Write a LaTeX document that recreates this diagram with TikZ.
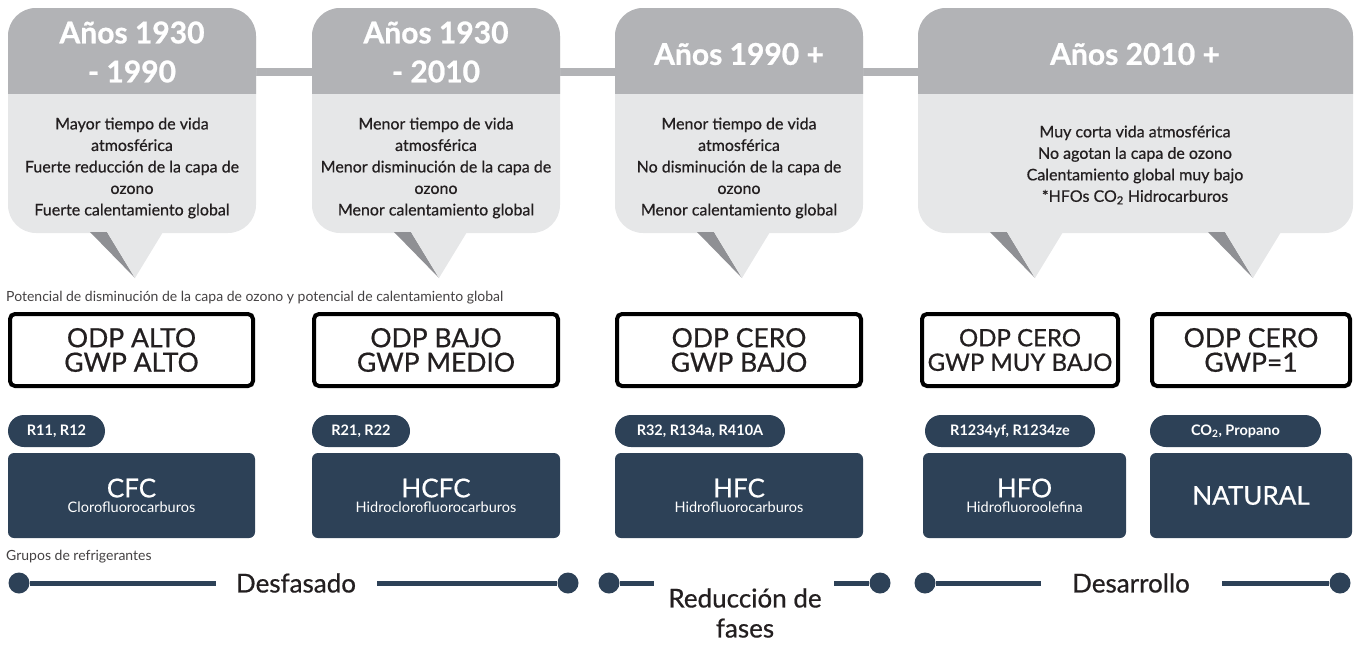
\documentclass[tikz,border=0pt]{standalone}
\usepackage{fontspec}
\setmainfont{Lato}
\newfontfamily\medfont{Lato}[FakeBold=0.6]
\newfontfamily\hvyfont{Lato Bold}[FakeBold=0.8]
\definecolor{hdr}{HTML}{B2B3B6}
\definecolor{bdy}{HTML}{E6E7E8}
\definecolor{ptr}{HTML}{8F9094}
\definecolor{navy}{HTML}{2D4157}
\definecolor{ink}{HTML}{231F20}
\newcommand\mycallout[2]{%
  \fill[bdy, rounded corners=28pt] (#1,8) rectangle (#2,233);
  \begin{scope}
    \clip (#1,0) rectangle (#2,93);
    \fill[hdr, rounded corners=28pt] (#1,8) rectangle (#2,180);
  \end{scope}}
\newcommand\mypointer[1]{%
  \fill[ptr] ({#1-45},232) -- ({#1-28},232) -- (#1,278) -- cycle;
  \fill[bdy] ({#1-28},232) -- ({#1+28},232) -- (#1,278) -- cycle;}
\tikzset{
  hdrtxt/.style={text=white, align=center, font=\hvyfont\fontsize{30}{39}\selectfont, inner sep=0pt},
  bodytxt/.style={text=ink, align=center, font=\medfont\fontsize{16}{21.5}\selectfont, inner sep=0pt},
  odp/.style={draw=black, line width=4pt, rounded corners=5pt, fill=white, text=ink, align=center,
    minimum height=72pt, inner sep=0pt, font=\medfont\fontsize{26.5}{24.5}\selectfont},
  pill/.style={fill=navy, rounded corners=16pt, text=white, minimum height=32pt, inner sep=0pt,
    font=\bfseries\fontsize{14.5}{14}\selectfont},
  grp/.style={fill=navy, rounded corners=6pt, text=white, minimum height=85pt, inner sep=0pt, align=center},
  note/.style={text=ink!85, anchor=west, inner sep=0pt, font=\fontsize{14}{14}\selectfont},
  dot/.style={circle, fill=navy, minimum size=21pt, inner sep=0pt},
  bar/.style={navy, line width=5pt},
  phase/.style={text=ink, align=center, font=\medfont\fontsize{26}{30}\selectfont, inner sep=0pt},
}
\newcommand\gsub[1]{{\fontsize{14.5}{15}\selectfont #1}}
\newcommand\gtit[1]{{\medfont\fontsize{26}{26}\selectfont #1}}
\begin{document}
\begin{tikzpicture}[x=1pt, y=-1pt]
\useasboundingbox (0,0) rectangle (1363,645);
% connector line behind callouts
\coordinate (l0) at (200,72);
\coordinate (l1) at (1000,72);
\draw[hdr, line width=8pt] (l0) -- (l1);
% callouts
\mycallout{8}{256}
\mycallout{312}{560}
\mycallout{615}{863}
\mycallout{918}{1353}
\mypointer{135}
\mypointer{439}
\mypointer{742}
\mypointer{1035}
\mypointer{1253}
\node[hdrtxt] (h1) at (132,52) {Años 1930\\- 1990};
\node[hdrtxt] (h2) at (436,52) {Años 1930\\- 2010};
\node[hdrtxt] (h3) at (739,54) {Años 1990 +};
\node[hdrtxt] (h4) at (1135,54) {Años 2010 +};
\node[bodytxt] (b1) at (132,168) {Mayor tiempo de vida\\atmosférica\\Fuerte reducción de la capa de\\ozono\\Fuerte calentamiento global};
\node[bodytxt] (b2) at (436,168) {Menor tiempo de vida\\atmosférica\\Menor disminución de la capa de\\ozono\\Menor calentamiento global};
\node[bodytxt] (b3) at (739,168) {Menor tiempo de vida\\atmosférica\\No disminución de la capa de\\ozono\\Menor calentamiento global};
\node[bodytxt] (b4) at (1135,165) {Muy corta vida atmosférica\\No agotan la capa de ozono\\Calentamiento global muy bajo\\*HFOs CO\textsubscript{2} Hidrocarburos};
% ODP / GWP
\node[note] (t1) at (6,298) {Potencial de disminución de la capa de ozono y potencial de calentamiento global};
\node[odp, minimum width=243pt] (o1) at (131.5,350) {ODP ALTO\\GWP ALTO};
\node[odp, minimum width=244pt] (o2) at (436,350) {ODP BAJO\\GWP MEDIO};
\node[odp, minimum width=244pt] (o3) at (739,350) {ODP CERO\\GWP BAJO};
\node[odp, minimum width=196pt, font=\medfont\fontsize{24}{24.5}\selectfont] (o4) at (1020,350) {ODP CERO\\GWP MUY BAJO};
\node[odp, minimum width=198pt] (o5) at (1251,350) {ODP CERO\\GWP=1};
% pills
\node[pill, minimum width=97pt] (p1) at (56.5,431) {R11, R12};
\node[pill, minimum width=98pt] (p2) at (361,431) {R21, R22};
\node[pill, minimum width=170pt] (p3) at (700,431) {R32, R134a, R410A};
\node[pill, minimum width=170pt] (p4) at (1010,431) {R1234yf, R1234ze};
\node[pill, minimum width=171pt] (p5) at (1235.5,431) {CO\textsubscript{2}, Propano};
% groups
\node[grp, minimum width=247pt] (g1) at (131.5,495.5) {\gtit{CFC}\\[3pt]\gsub{Clorofluorocarburos}};
\node[grp, minimum width=248pt] (g2) at (436,495.5) {\gtit{HCFC}\\[3pt]\gsub{Hidroclorofluorocarburos}};
\node[grp, minimum width=248pt] (g3) at (739,495.5) {\gtit{HFC}\\[3pt]\gsub{Hidrofluorocarburos}};
\node[grp, minimum width=203pt] (g4) at (1024.5,495.5) {\gtit{HFO}\\[3pt]\gsub{Hidrofluoroolefina}};
\node[grp, minimum width=202pt] (g5) at (1251,495.5) {\gtit{NATURAL}};
\node[note] (t2) at (6,557) {Grupos de refrigerantes};
% phases
\node[dot] (d1) at (19,583) {};
\node[dot] (d2) at (568,583) {};
\node[dot] (d3) at (609,583) {};
\node[dot] (d4) at (880,583) {};
\node[dot] (d5) at (925,583) {};
\node[dot] (d6) at (1340,583) {};
\node[phase] (f1) at (296,583) {Desfasado};
\node[phase] (f2) at (745,613) {Reducción de\\fases};
\node[phase] (f3) at (1131,583) {Desarrollo};
\coordinate (e1) at (216,583);
\coordinate (e2) at (377,583);
\coordinate (e3) at (654,583);
\coordinate (e4) at (834,583);
\coordinate (e5) at (1041,583);
\coordinate (e6) at (1222,583);
\draw[bar] (d1) -- (e1);
\draw[bar] (e2) -- (d2);
\draw[bar] (d3) -- (e3);
\draw[bar] (e4) -- (d4);
\draw[bar] (d5) -- (e5);
\draw[bar] (e6) -- (d6);
\end{tikzpicture}
\end{document}
